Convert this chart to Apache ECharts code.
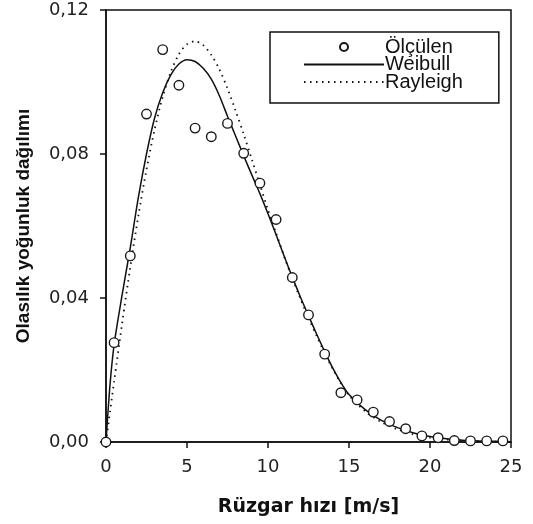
<!DOCTYPE html>
<html>
<head>
<meta charset="utf-8">
<script src="https://cdn.jsdelivr.net/npm/echarts@6/dist/echarts.min.js"></script>
<style>
  html, body { margin: 0; padding: 0; background: #ffffff; }
  #chart { width: 533px; height: 524px; }
</style>
</head>
<body>
<div id="chart"></div>
<script>
// Measured wind speed frequency (Ölçülen)
const measuredSpeed = [0, 0.5, 1.5, 2.5, 3.5, 4.5, 5.5, 6.5, 7.5, 8.5, 9.5, 10.5, 11.5, 12.5,
  13.5, 14.5, 15.5, 16.5, 17.5, 18.5, 19.5, 20.5, 21.5, 22.5, 23.5, 24.5];
const measuredDensity = [0, 0.0276, 0.0517, 0.0911, 0.1090, 0.0991, 0.0872, 0.0848, 0.0885, 0.0802,
  0.0719, 0.0618, 0.0457, 0.0353, 0.0244, 0.0137, 0.0117, 0.0083, 0.0057, 0.0037,
  0.0017, 0.0012, 0.0004, 0.0003, 0.0003, 0.0003];

// Fitted distributions, sampled along the speed axis
const curveSpeed = [0, 0.25, 0.5, 1, 1.5, 2, 2.5, 3, 3.5, 4, 4.5, 5, 5.5, 6, 6.5, 7, 7.5, 8, 8.5, 9,
  9.5, 10, 10.5, 11, 11.5, 12, 12.5, 13, 13.5, 14, 14.5, 15, 16, 17, 18, 19, 20, 21, 22, 23, 24, 25];
const weibullDensity = [0, 0.016, 0.027, 0.041, 0.054, 0.068, 0.080, 0.090, 0.097, 0.102, 0.105,
  0.1062, 0.1057, 0.1038, 0.1008, 0.0962, 0.0905, 0.0850, 0.0795, 0.0742, 0.0690, 0.0634,
  0.0576, 0.0516, 0.0458, 0.0403, 0.0351, 0.0300, 0.0251, 0.0205, 0.0165, 0.0132, 0.0090,
  0.0060, 0.0040, 0.0025, 0.0015, 0.0009, 0.0005, 0.0003, 0.0002, 0.0001];
const rayleighDensity = [0, 0.0084, 0.0168, 0.0331, 0.0486, 0.0629, 0.0757, 0.0868, 0.0959, 0.1028,
  0.1077, 0.1105, 0.1113, 0.1102, 0.1075, 0.1035, 0.0982, 0.0920, 0.0855, 0.0785, 0.0715,
  0.0645, 0.0580, 0.0515, 0.0455, 0.0398, 0.0345, 0.0295, 0.0247, 0.0203, 0.0163, 0.0130,
  0.0085, 0.0055, 0.0035, 0.0021, 0.0012, 0.0007, 0.0004, 0.0002, 0.0001, 0];

const seriesNames = ['Ölçülen', 'Weibull', 'Rayleigh'];
const xTitle = 'Rüzgar hızı [m/s]';
const yTitle = 'Olasılık yoğunluk dağılımı';

const zip = (xs, ys) => xs.map((x, i) => [x, ys[i]]);
const INK = '#111';

const chart = echarts.init(document.getElementById('chart'), null, { renderer: 'canvas' });

chart.setOption({
  animation: false,
  backgroundColor: '#ffffff',
  grid: {
    left: 106, right: 22, top: 10, bottom: 82,
    show: true, borderColor: INK, borderWidth: 1.5, backgroundColor: 'transparent'
  },
  legend: {
    // line entries show only their stroke, no marker in the middle
    data: [
      { name: seriesNames[0] },
      { name: seriesNames[1], itemStyle: { opacity: 0 } },
      { name: seriesNames[2], itemStyle: { opacity: 0 } }
    ],
    orient: 'vertical',
    left: 270, top: 32,
    padding: [5, 36, 11, 33],
    itemWidth: 80, itemHeight: 8, itemGap: -2.5,
    borderColor: INK, borderWidth: 1.5,
    textStyle: { fontFamily: 'Liberation Sans', fontSize: 20, color: INK, padding: [0, 0, 0, -4] }
  },
  xAxis: {
    type: 'value', min: 0, max: 25, interval: 5,
    name: xTitle, nameLocation: 'middle', nameGap: 56,
    nameTextStyle: { fontFamily: 'DejaVu Sans', fontWeight: 'bold', fontSize: 19, color: INK },
    axisLine: { show: true, lineStyle: { color: INK, width: 1.5 } },
    axisTick: { show: true, inside: false, length: 6, lineStyle: { color: INK, width: 1.5 } },
    axisLabel: { margin: 16, fontFamily: 'DejaVu Sans', fontSize: 18, color: '#222' },
    splitLine: { show: false }
  },
  yAxis: {
    type: 'value', min: 0, max: 0.12, interval: 0.04,
    name: yTitle, nameLocation: 'middle', nameGap: 73, nameRotate: 90,
    nameTextStyle: { fontFamily: 'Liberation Sans', fontWeight: 'bold', fontSize: 19, color: INK },
    axisLine: { show: true, lineStyle: { color: INK, width: 1.5 } },
    axisTick: { show: true, inside: false, length: 6, lineStyle: { color: INK, width: 1.5 } },
    axisLabel: {
      margin: 17, fontFamily: 'DejaVu Sans', fontSize: 18, color: '#222',
      formatter: v => v.toFixed(2).replace('.', ',')
    },
    splitLine: { show: false }
  },
  series: [
    {
      name: seriesNames[1], type: 'line', data: zip(curveSpeed, weibullDensity),
      smooth: 0.3, symbol: 'none',
      lineStyle: { color: INK, width: 1.5, type: 'solid' },
      itemStyle: { color: INK }, z: 3
    },
    {
      name: seriesNames[2], type: 'line', data: zip(curveSpeed, rayleighDensity),
      smooth: 0.3, symbol: 'none',
      lineStyle: { color: INK, width: 1.8, type: [1.5, 4.5] },
      itemStyle: { color: INK }, z: 3
    },
    {
      name: seriesNames[0], type: 'scatter', data: zip(measuredSpeed, measuredDensity),
      symbol: 'circle', symbolSize: 9.5,
      itemStyle: { color: '#ffffff', borderColor: '#1a1a1a', borderWidth: 1.4, opacity: 1 }, z: 4
    }
  ]
});
</script>
</body>
</html>
